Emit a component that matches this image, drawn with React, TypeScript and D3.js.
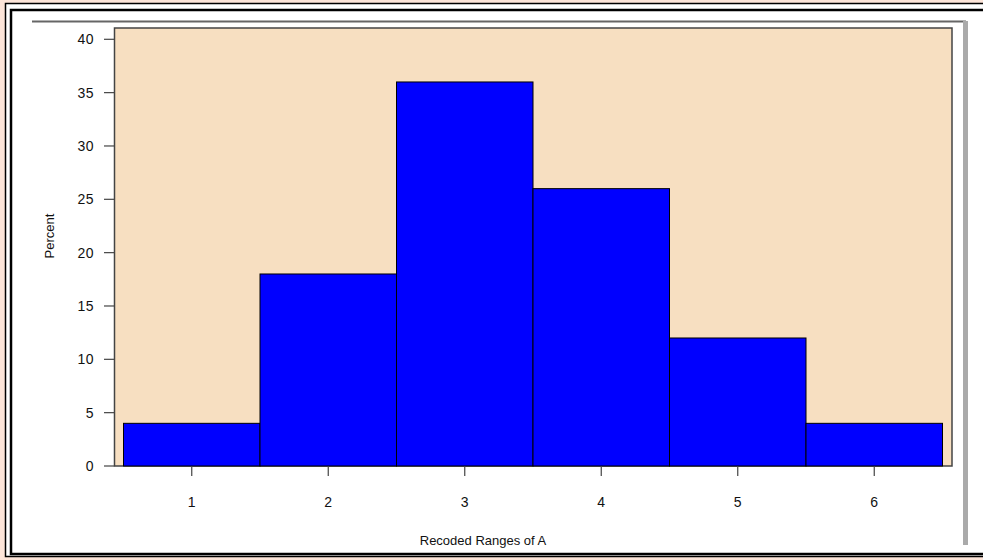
import React from "react";
import * as d3 from "d3";

const categories = [1, 2, 3, 4, 5, 6];
const percents = [4, 18, 36, 26, 12, 4];
const yTicks = [0, 5, 10, 15, 20, 25, 30, 35, 40];
const xTitle = "Recoded Ranges of A";
const yTitle = "Percent";

const W = 983;
const H = 560;
const PL = 114.5;
const PR = 952;
const PT = 28;
const PB = 466;
const FONT = "'Liberation Sans', Arial, sans-serif";

export default function App() {
  const x = d3.scaleLinear().domain([0.5, 6.5]).range([123.5, 942.5]);
  const y = d3.scaleLinear().domain([0, 40]).range([PB, 39.3]);
  return (
    <svg width={W} height={H} style={{ position: "absolute", left: 0, top: 0 }}>
      <rect x={0} y={0} width={W} height={H} fill="#FDE5D9" />
      <rect x={5.5} y={3.5} width={W + 20} height={553} fill="#fff" stroke="#000" strokeWidth={1.5} />
      <rect x={11} y={10} width={W + 20} height={544} fill="#fff" stroke="#000" strokeWidth={2.5} />
      {/* shadow frame */}
      <line x1={32} x2={966} y1={21.5} y2={21.5} stroke="#666" strokeWidth={2} />
      <rect x={963} y={21} width={5} height={524} fill="#aaa" />
      {/* plot area */}
      <rect x={PL} y={PT} width={PR - PL} height={PB - PT} fill="#F7DFC1" stroke="#444" strokeWidth={1.5} />
      {categories.map((c, i) => (
        <rect
          key={c}
          x={x(c - 0.5)}
          y={y(percents[i])}
          width={x(c + 0.5) - x(c - 0.5)}
          height={y(0) - y(percents[i])}
          fill="#0000FF"
          stroke="#000"
          strokeWidth={1}
        />
      ))}
      {/* y axis */}
      {yTicks.map((t) => (
        <g key={t}>
          <line x1={104} x2={PL} y1={y(t)} y2={y(t)} stroke="#444" strokeWidth={1.2} />
          <text x={94} y={y(t)} dy="0.36em" textAnchor="end" fontFamily={FONT} fontSize={14} letterSpacing={0.5} fill="#111">
            {t}
          </text>
        </g>
      ))}
      {/* x axis */}
      {categories.map((c) => (
        <g key={c}>
          <line x1={x(c)} x2={x(c)} y1={PB} y2={PB + 10} stroke="#444" strokeWidth={1.2} />
          <text x={x(c)} y={PB + 41} textAnchor="middle" fontFamily={FONT} fontSize={14} fill="#111">
            {c}
          </text>
        </g>
      ))}
      <text x={483} y={545} textAnchor="middle" fontFamily={FONT} fontSize={13} fill="#111">
        {xTitle}
      </text>
      <text
        transform={`translate(54, ${236}) rotate(-90)`}
        textAnchor="middle"
        fontFamily={FONT}
        fontSize={13}
        fill="#111"
      >
        {yTitle}
      </text>
    </svg>
  );
}
